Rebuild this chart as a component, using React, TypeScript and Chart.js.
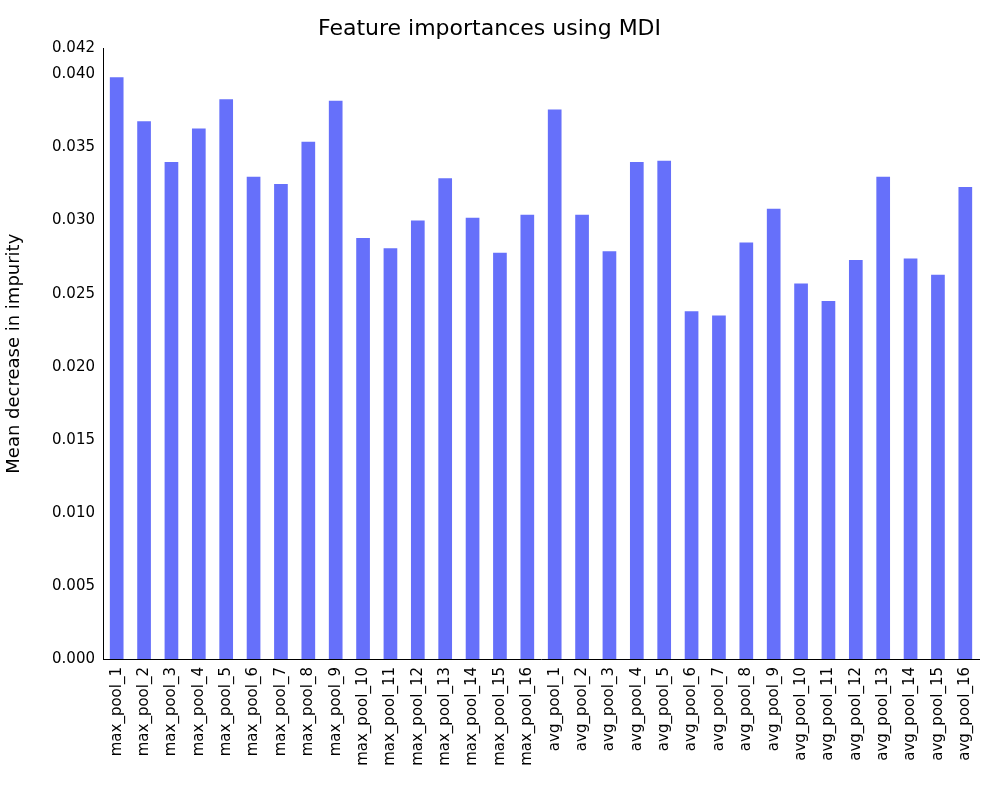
import React, { useEffect, useRef } from "react";
import { Chart, registerables } from "chart.js";
Chart.register(...registerables);

const categories = [
  ...Array.from({ length: 16 }, (_, i) => `max_pool_${i + 1}`),
  ...Array.from({ length: 16 }, (_, i) => `avg_pool_${i + 1}`),
];
const importances = [
  0.0398, 0.0368, 0.034, 0.0363, 0.0383, 0.033, 0.0325, 0.0354, 0.0382, 0.0288, 0.0281, 0.03, 0.0329, 0.0302, 0.0278, 0.0304,
  0.0376, 0.0304, 0.0279, 0.034, 0.0341, 0.0238, 0.0235, 0.0285, 0.0308, 0.0257, 0.0245, 0.0273, 0.033, 0.0274, 0.0263, 0.0323,
];

export default function App() {
  const ref = useRef<HTMLCanvasElement>(null);
  useEffect(() => {
    document.body.style.margin = "0";
    const font = "'DejaVu Sans', sans-serif";
    const chart = new Chart(ref.current!, {
      type: "bar",
      data: {
        labels: categories,
        datasets: [{ data: importances, backgroundColor: "rgb(102,112,250)", barPercentage: 0.5, categoryPercentage: 1 }],
      },
      options: {
        animation: false,
        responsive: false,
        layout: { padding: { left: 0, right: 21, top: 0, bottom: 0 } },
        plugins: {
          legend: { display: false },
          tooltip: { enabled: false },
          title: { display: true, text: "Feature importances using MDI", color: "#000", font: { family: font, size: 22, weight: "normal" }, padding: { top: 16, bottom: 6 } },
        },
        scales: {
          x: {
            grid: { display: false, drawTicks: true, tickLength: 5 },
            border: { color: "#000" },
            ticks: { color: "#000", font: { family: font, size: 15 }, minRotation: 90, maxRotation: 90, autoSkip: false },
            afterFit: (s: any) => { s.height = 141; },
          },
          y: {
            min: 0,
            max: 0.04178,
            grid: { display: false, drawTicks: true, tickLength: 5 },
            border: { color: "#000" },
            ticks: { color: "#000", font: { family: font, size: 15 }, stepSize: 0.005, callback: (v: any) => Number(v).toFixed(3) },
            title: { display: true, text: "Mean decrease in impurity", color: "#000", font: { family: font, size: 18 } },
            afterFit: (s: any) => { s.width = 103; },
          },
        },
      },
    });
    return () => chart.destroy();
  }, []);
  return <canvas ref={ref} width={1000} height={800} />;
}
